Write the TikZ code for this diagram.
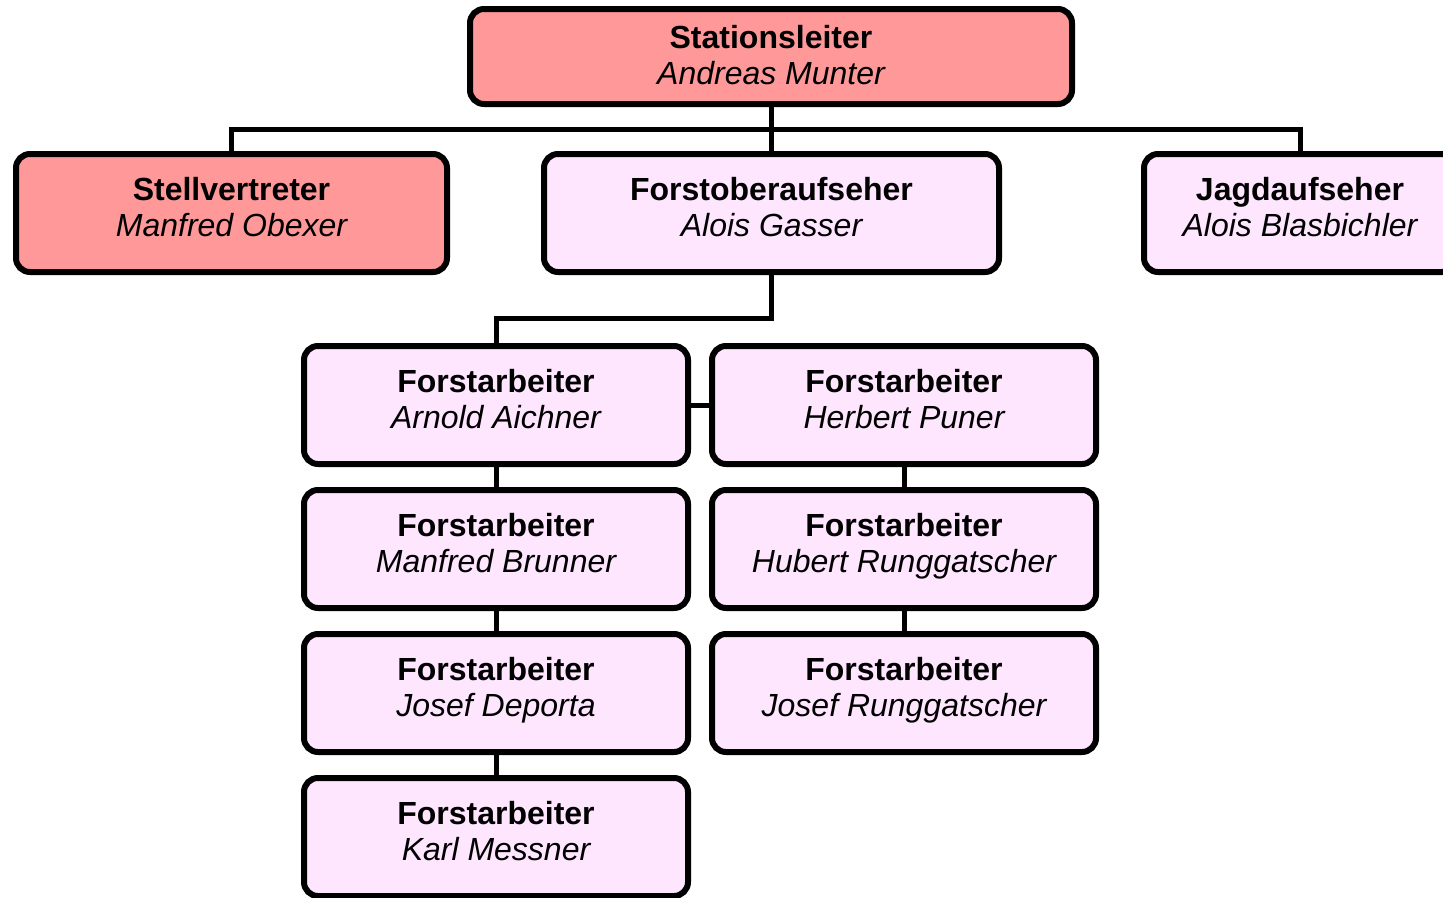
\documentclass[tikz,border=0pt]{standalone}
\usepackage{fontspec}
\setmainfont{Liberation Sans}
\definecolor{bossred}{RGB}{255,153,153}
\definecolor{staffpink}{RGB}{255,230,255}
\begin{document}
\begin{tikzpicture}[x=1pt,y=-1pt,
  box/.style={draw=black, line width=6pt, rounded corners=14pt, inner sep=0pt},
  redbox/.style={box, fill=bossred},
  pinkbox/.style={box, fill=staffpink, minimum width=384pt, minimum height=118pt},
  ttl/.style={anchor=base, font=\fontsize{32}{36}\selectfont\bfseries, inner sep=0pt},
  nm/.style={anchor=base, font=\fontsize{32}{36}\selectfont\itshape, inner sep=0pt},
  conn/.style={line width=5pt, line join=miter}]
\useasboundingbox (0,0) rectangle (1443,897);
\clip (0,0) rectangle (1443,897);
\coordinate (bus) at (771,129);
\coordinate (fk) at (496,318);
% boxes
\node[redbox, minimum width=602pt, minimum height=95pt] (boss) at (771,56.5) {};
\node[redbox, minimum width=431pt, minimum height=118pt] (dep) at (231.5,213) {};
\node[box, fill=staffpink, minimum width=455pt, minimum height=118pt] (fo) at (771.5,213) {};
\node[box, fill=staffpink, minimum width=312pt, minimum height=118pt] (jag) at (1300,213) {};
\node[pinkbox] (a1) at (496,405) {};
\node[pinkbox] (a2) at (496,549) {};
\node[pinkbox] (a3) at (496,693) {};
\node[pinkbox] (a4) at (496,837) {};
\node[pinkbox] (b1) at (904,405) {};
\node[pinkbox] (b2) at (904,549) {};
\node[pinkbox] (b3) at (904,693) {};
% connectors
\draw[conn] (boss.south) -- (boss.south |- fo.north);
\draw[conn] (dep.north) |- (bus) -| (jag.north);
\draw[conn] (fo.south) |- (fk) -- (a1.north);
\draw[conn] (a1.east) -- (b1.west);
\draw[conn] (a1.south) -- (a2.north);
\draw[conn] (a2.south) -- (a3.north);
\draw[conn] (a3.south) -- (a4.north);
\draw[conn] (b1.south) -- (b2.north);
\draw[conn] (b2.south) -- (b3.north);
% texts
\node[ttl] (bossT) at ([yshift=8.5pt]boss.center) {Stationsleiter};
\node[nm] (bossN) at ([yshift=-27.5pt]boss.center) {Andreas Munter};
\node[ttl] (depT) at ([yshift=13pt]dep.center) {Stellvertreter};
\node[nm] (depN) at ([yshift=-23pt]dep.center) {Manfred Obexer};
\node[ttl] (foT) at ([yshift=13pt]fo.center) {Forstoberaufseher};
\node[nm] (foN) at ([yshift=-23pt]fo.center) {Alois Gasser};
\node[ttl] (jagT) at ([yshift=13pt]jag.center) {Jagdaufseher};
\node[nm] (jagN) at ([yshift=-23pt]jag.center) {Alois Blasbichler};
\foreach \n/\name in {a1/Arnold Aichner, a2/Manfred Brunner, a3/Josef Deporta, a4/Karl Messner, b1/Herbert Puner, b2/Hubert Runggatscher, b3/Josef Runggatscher}{
  \node[ttl] (\n T) at ([yshift=13pt]\n.center) {Forstarbeiter};
  \node[nm] (\n N) at ([yshift=-23pt]\n.center) {\name};
}
\end{tikzpicture}
\end{document}
